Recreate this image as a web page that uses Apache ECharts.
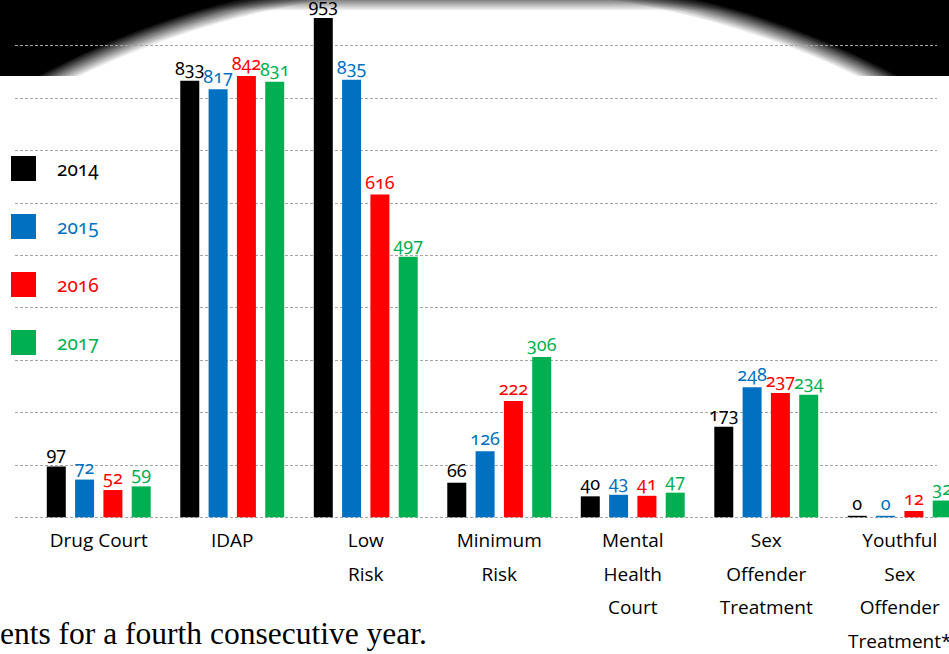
<!DOCTYPE html>
<html>
<head>
<meta charset="utf-8">
<script src="https://cdn.jsdelivr.net/npm/echarts@6/dist/echarts.min.js"></script>
<style>
  html, body { margin: 0; padding: 0; background: #ffffff; }
  #chart { width: 949px; height: 654px; }
  /* old-style figures for the numeric labels */
  #chart text { font-feature-settings: "onum" 1 !important; font-variant-numeric: oldstyle-nums !important; }
</style>
</head>
<body>
<div id="chart"></div>
<script>
// Program enrolment by year
const categories = [
  'Drug Court',
  'IDAP',
  'Low\nRisk',
  'Minimum\nRisk',
  'Mental\nHealth\nCourt',
  'Sex\nOffender\nTreatment',
  'Youthful\nSex\nOffender\nTreatment*'
];
const years = ['2014', '2015', '2016', '2017'];
const values2014 = [97, 833, 953, 66, 40, 173, 0];
const values2015 = [72, 817, 835, 126, 43, 248, 0];
const values2016 = [52, 842, 616, 222, 41, 237, 12];
const values2017 = [59, 831, 497, 306, 47, 234, 32];
const yearColors = ['#000000', '#0070c0', '#ff0000', '#00b050'];
const footnote = 'ents for a fourth consecutive year.';

const seriesValues = [values2014, values2015, values2016, values2017];
const labelFont = '"Noto Sans", Lato, sans-serif';

const chart = echarts.init(document.getElementById('chart'), null, { renderer: 'svg' });

// Dark band across the top with a soft elliptical opening:
// a black strip, then a stack of white ellipses shrinking towards the
// centre, each one lighter so the edge fades from black to white.
const band = { height: 76 };
const opening = { cx: 468, cy: 600, rx: 777.5, ry: 628.5, inner: 0.972 };
const fadeSteps = 14;
const bandGraphics = [{
  type: 'rect',
  z: -110,
  silent: true,
  shape: { x: 0, y: 0, width: 949, height: band.height },
  style: { fill: '#000000' }
}];
for (let k = 1; k <= fadeSteps; k++) {
  const s = 1 - (k - 1) / (fadeSteps - 1) * (1 - opening.inner);
  bandGraphics.push({
    type: 'ellipse',
    z: -110 + k,
    silent: true,
    shape: { cx: opening.cx, cy: opening.cy, rx: opening.rx * s, ry: opening.ry * s },
    style: { fill: '#ffffff', opacity: 1 / (fadeSteps - k + 1) }
  });
}
// faint shading along the very top edge of the opening
bandGraphics.push({
  type: 'rect',
  z: -90,
  silent: true,
  shape: { x: 0, y: 0, width: 949, height: 11 },
  style: {
    fill: {
      type: 'linear', x: 0, y: 0, x2: 0, y2: 1,
      colorStops: [
        { offset: 0, color: 'rgba(0,0,0,0.5)' },
        { offset: 1, color: 'rgba(0,0,0,0)' }
      ]
    }
  }
});

const option = {
  backgroundColor: '#ffffff',
  animation: false,
  legend: {
    orient: 'vertical',
    left: 6,
    top: 151,
    itemWidth: 25,
    itemHeight: 25,
    itemGap: 33,
    icon: 'rect',
    selectedMode: false,
    textStyle: { fontFamily: labelFont, fontSize: 19, padding: [0, 0, 0, 16] },
    data: years.map((y, i) => ({ name: y, textStyle: { color: yearColors[i] } }))
  },
  grid: [
    { left: 15, right: 12, top: -6.7, height: 524, outerBoundsMode: 'none', containLabel: false },
    { left: 32, width: 934.5, top: -6.7, height: 524, outerBoundsMode: 'none', containLabel: false }
  ],
  xAxis: [
    { gridIndex: 0, type: 'category', data: categories, show: false },
    {
      gridIndex: 1,
      type: 'category',
      data: categories,
      axisLine: { show: false },
      axisTick: { show: false },
      axisLabel: {
        interval: 0,
        margin: 6,
        color: '#000000',
        fontFamily: '"Open Sans", "Noto Sans", sans-serif',
        fontSize: 19,
        lineHeight: 33.5
      }
    }
  ],
  yAxis: [
    {
      gridIndex: 0,
      type: 'value',
      min: 0,
      max: 1000,
      interval: 100,
      axisLine: { show: false },
      axisTick: { show: false },
      axisLabel: { show: false },
      splitLine: { show: true, lineStyle: { color: '#a6a6a6', width: 1, type: [3, 2] } }
    },
    {
      gridIndex: 1,
      type: 'value',
      min: 0,
      max: 1000,
      interval: 100,
      show: false,
      splitLine: { show: false }
    }
  ],
  series: years.map((y, i) => ({
    name: y,
    type: 'bar',
    xAxisIndex: 1,
    yAxisIndex: 1,
    data: seriesValues[i],
    barWidth: 19,
    barGap: '49%',
    barMinHeight: 1.5,
    itemStyle: { color: yearColors[i] },
    label: {
      show: true,
      position: 'top',
      distance: 4,
      color: yearColors[i],
      fontFamily: labelFont,
      fontSize: 18
    }
  })),
  graphic: bandGraphics.concat([
    {
      type: 'text',
      x: 0,
      y: 633,
      z: 10,
      silent: true,
      style: {
        text: footnote,
        fill: '#000000',
        font: '31.5px "Liberation Serif", "DejaVu Serif", serif',
        verticalAlign: 'middle',
        align: 'left'
      }
    }
  ])
};

chart.setOption(option);
</script>
</body>
</html>
